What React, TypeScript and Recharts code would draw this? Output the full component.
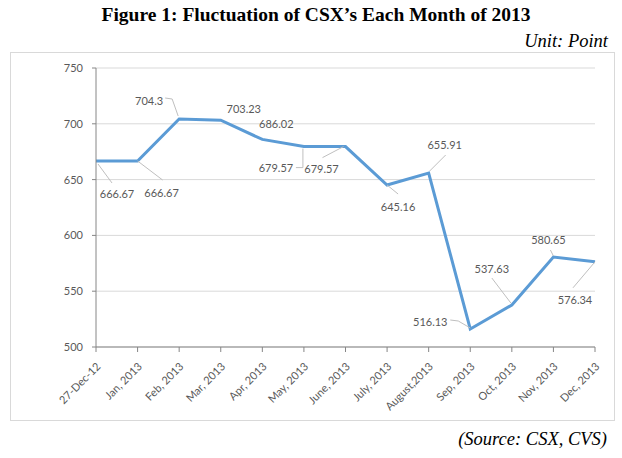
import { CartesianGrid, Line, LineChart, XAxis, YAxis } from "recharts";

const months = [
  "27-Dec-12", "Jan, 2013", "Feb, 2013", "Mar, 2013", "Apr, 2013", "May, 2013", "June, 2013",
  "July, 2013", "August,2013", "Sep, 2013", "Oct, 2013", "Nov, 2013", "Dec, 2013",
];
const csx = [666.67, 666.67, 704.3, 703.23, 686.02, 679.57, 679.57, 645.16, 655.91, 516.13, 537.63, 580.65, 576.34];
const yTicks = [500, 550, 600, 650, 700, 750];

// label placement (text centre relative to point) and leader polylines, relative to point
const labelPos: [number, number][] = [
  [21, 33], [24, 32], [-30, -19], [23, -12], [14, -16], [-28, 21], [-24, 22],
  [11, 21], [16, -29], [-40, -7], [-20, -37], [-5, -17], [-20, 38],
];
const leaders: ([number, number][] | null)[] = [
  [[2, 3], [16, 22]],
  [[0, 0], [25, 19]],
  [[-14, -21], [-7, -20], [-1, -3]],
  null,
  null,
  [[-8, 21], [-1, 21], [-1, 2]],
  [[-23, 11], [-2, 0]],
  [[0, 0], [11, 9]],
  [[17, -18], [1, -2]],
  [[-20, -9], [-12, -8], [0, -1]],
  [[-20, -27], [-1, -2]],
  [[-3, -7], [0, -1]],
  [[-22, 26], [0, 0]],
];

const data = months.map((m, i) => ({ month: m, value: csx[i] }));

const TEXT = "#595959";
const GRID = "#d9d9d9";
const AXIS = "#868686";
const BLUE = "#5b9bd5";
const FONT = "Lato, 'Open Sans', sans-serif";
const SERIF = "'Liberation Serif', 'Times New Roman', 'DejaVu Serif', serif";

function PointLabel(props: any) {
  const { x, y, value, index } = props;
  const [dx, dy] = labelPos[index];
  const lead = leaders[index];
  return (
    <g>
      {lead && (
        <polyline
          points={lead.map(([a, b]) => `${x + a},${y + b}`).join(" ")}
          fill="none"
          stroke="#bfbfbf"
          strokeWidth={1}
        />
      )}
      <text
        x={x + dx}
        y={y + dy}
        textAnchor="middle"
        dominantBaseline="central"
        fontSize={11}
        fontFamily={FONT}
        fill={TEXT}
      >
        {value}
      </text>
    </g>
  );
}

function MonthTick(props: any) {
  const { x, y, payload } = props;
  const ax = x + 2;
  const ay = y + 10;
  return (
    <text
      x={ax}
      y={ay}
      transform={`rotate(-45, ${ax}, ${ay})`}
      textAnchor="end"
      dominantBaseline="central"
      fontSize={11}
      fontFamily={FONT}
      fill={TEXT}
    >
      {payload.value}
    </text>
  );
}

export default function App() {
  return (
    <div style={{ position: "absolute", left: 0, top: 0, width: 622, height: 458, background: "#fff" }}>
      <div
        style={{
          position: "absolute", left: 0, top: 4, width: 632, textAlign: "center",
          fontFamily: SERIF, fontWeight: "bold", fontSize: 19.5,
        }}
      >
        Figure 1: Fluctuation of CSX’s Each Month of 2013
      </div>
      <div
        style={{
          position: "absolute", right: 14, top: 31, fontFamily: SERIF,
          fontStyle: "italic", fontSize: 18.5,
        }}
      >
        Unit: Point
      </div>
      <div
        style={{
          position: "absolute", left: 10, top: 52, width: 605, height: 369,
          border: `1.5px solid ${GRID}`, boxSizing: "border-box",
        }}
      />
      <div
        style={{
          position: "absolute", right: 15, top: 429, fontFamily: SERIF,
          fontStyle: "italic", fontSize: 18.5,
        }}
      >
        (Source: CSX, CVS)
      </div>
      <div style={{ position: "absolute", left: 0, top: 0 }}>
        <LineChart width={622} height={458} data={data} margin={{ top: 68, right: 27, bottom: 51, left: 56 }}>
          <CartesianGrid stroke={GRID} vertical={false} />
          <XAxis
            dataKey="month"
            interval={0}
            height={60}
            tick={<MonthTick />}
            tickSize={5}
            axisLine={{ stroke: AXIS }}
            tickLine={{ stroke: AXIS }}
          />
          <YAxis
            domain={[500, 750]}
            ticks={yTicks}
            width={40}
            tickSize={4}
            tickMargin={9}
            tick={{ fontSize: 11, fill: TEXT, fontFamily: FONT }}
            axisLine={{ stroke: AXIS }}
            tickLine={{ stroke: AXIS }}
          />
          <Line
            type="linear"
            dataKey="value"
            stroke={BLUE}
            strokeWidth={3}
            dot={false}
            isAnimationActive={false}
            label={<PointLabel />}
          />
        </LineChart>
      </div>
    </div>
  );
}
